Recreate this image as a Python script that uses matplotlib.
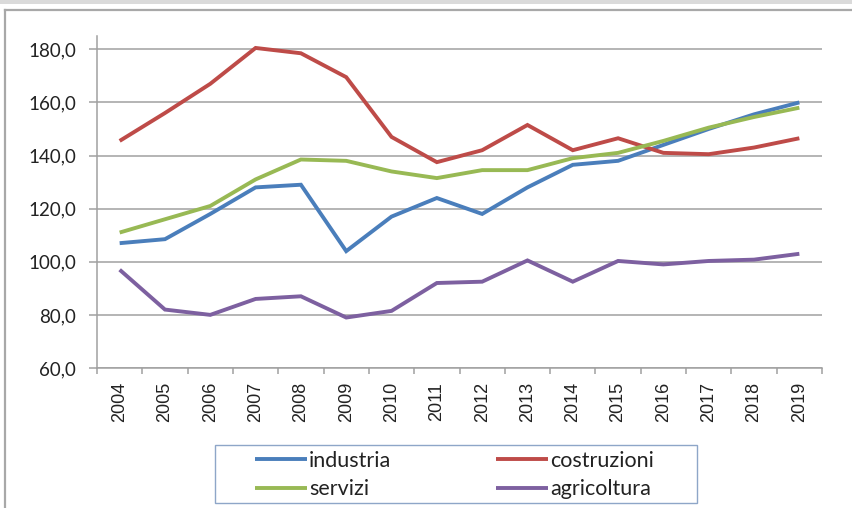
import numpy as np
import matplotlib
matplotlib.use("Agg")
import matplotlib.pyplot as plt
from matplotlib.lines import Line2D
from matplotlib.patches import Rectangle
from matplotlib.ticker import FixedLocator, FuncFormatter

years = [str(y) for y in range(2004, 2020)]

industria = [107.0, 108.5, 118.0, 128.0, 129.0, 104.0, 117.0, 124.0,
             118.0, 128.0, 136.5, 138.0, 144.0, 150.0, 155.5, 160.0]
costruzioni = [145.5, 156.0, 167.0, 180.5, 178.5, 169.5, 147.0, 137.5,
               142.0, 151.5, 142.0, 146.5, 141.0, 140.5, 143.0, 146.5]
servizi = [111.0, 116.0, 121.0, 131.0, 138.5, 138.0, 134.0, 131.5,
           134.5, 134.5, 139.0, 141.0, 145.5, 150.5, 154.5, 158.0]
agricoltura = [97.0, 82.0, 80.0, 86.0, 87.0, 79.0, 81.5, 92.0,
               92.5, 100.5, 92.5, 100.3, 99.0, 100.3, 100.8, 103.0]

series = [
    ("industria", industria, "#4a7ebb"),
    ("costruzioni", costruzioni, "#be4b48"),
    ("servizi", servizi, "#98b954"),
    ("agricoltura", agricoltura, "#7d60a0"),
]
y_ticks = [60, 80, 100, 120, 140, 160, 180]

W, H = 852, 508
fig = plt.figure(figsize=(W / 100, H / 100), dpi=100)
fig.patch.set_facecolor("white")

# window-like frame decorations
fig.patches.append(Rectangle((0, 1 - 4 / H), 1, 4 / H, transform=fig.transFigure,
                             facecolor="#dadada", edgecolor="none"))
fig.lines.append(Line2D([5 / W, 1], [1 - 10 / H, 1 - 10 / H], transform=fig.transFigure,
                        color="#a8a8a8", lw=1.6))
fig.lines.append(Line2D([5 / W, 5 / W], [0, 1 - 10 / H], transform=fig.transFigure,
                        color="#a8a8a8", lw=1.6))

ax = fig.add_axes([97 / W, (H - 368) / H, (822 - 97) / W, (368 - 36) / H])
x = np.arange(len(years))
handles = {}
for name, vals, col in series:
    handles[name], = ax.plot(x, vals, color=col, lw=2.8, label=name,
                             solid_capstyle="butt", solid_joinstyle="miter")

ax.set_xlim(-0.5, len(years) - 0.5)
ax.set_ylim(60, 185)
ax.yaxis.set_major_locator(FixedLocator(y_ticks))
ax.yaxis.set_major_formatter(FuncFormatter(lambda v, p: f"{v:.1f}".replace(".", ",")))
ax.grid(axis="y", color="#a0a0a0", lw=1.1)
ax.set_axisbelow(True)

ax.set_xticks(x)
ax.set_xticklabels(years, rotation=90, family="Liberation Sans", fontsize=13,
                   color="#222222")
ax.set_xticks(np.arange(-0.5, len(years), 1), minor=True)
ax.tick_params(axis="x", which="major", length=0, pad=10)
ax.tick_params(axis="x", which="minor", length=4, color="#a0a0a0", width=1.1)
ax.tick_params(axis="y", length=6, color="#a0a0a0", width=1.1, pad=9,
               labelsize=13.5, labelcolor="#222222")
for lab in ax.get_yticklabels():
    lab.set_family("Lato")

for s in ["top", "right"]:
    ax.spines[s].set_visible(False)
for s in ["left", "bottom"]:
    ax.spines[s].set_color("#a0a0a0")
    ax.spines[s].set_linewidth(1.1)

# legend box and two columns
fig.patches.append(Rectangle((215 / W, (H - 503) / H), (697 - 215) / W, 58 / H,
                             transform=fig.transFigure, facecolor="white",
                             edgecolor="#8ea6c8", lw=1.0))
leg_font = {"family": "Lato", "size": 15.5}
columns = [(255, ["industria", "servizi"]), (496, ["costruzioni", "agricoltura"])]
for x0, names in columns:
    leg = fig.legend([handles[n] for n in names], names, loc="center left",
                     bbox_to_anchor=(x0 / W, (H - 475) / H), frameon=False,
                     handlelength=2.42, handletextpad=0.1, borderpad=0,
                     borderaxespad=0, labelspacing=0.38, prop=leg_font)
    for t in leg.get_texts():
        t.set_color("#222222")

fig.savefig("out.png", dpi=100)
